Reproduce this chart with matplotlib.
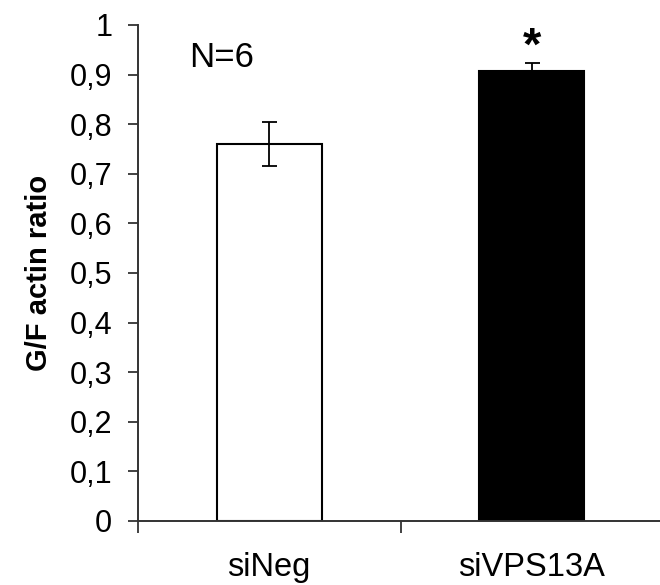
import matplotlib
matplotlib.use("Agg")
import matplotlib.pyplot as plt
import numpy as np

categories = ["siNeg", "siVPS13A"]
values = [0.76, 0.908]
errors = [0.044, 0.016]
bar_colors = ["white", "black"]
ytick_values = [0, 0.1, 0.2, 0.3, 0.4, 0.5, 0.6, 0.7, 0.8, 0.9, 1.0]
ytick_labels = ["0", "0,1", "0,2", "0,3", "0,4", "0,5", "0,6", "0,7", "0,8", "0,9", "1"]
annotation_n = "N=6"
significance = "*"

plt.rcParams['font.family'] = ['Liberation Sans', 'DejaVu Sans']

fig = plt.figure(figsize=(6.6, 5.85), dpi=100)
ax = fig.add_axes([138/660, 1 - 521/585, 525/660, (521 - 25)/585])

x = np.arange(len(categories))
ax.bar(x, values, width=0.4, color=bar_colors, edgecolor="black", linewidth=1.5,
       yerr=errors, capsize=5.4, error_kw=dict(ecolor="black", elinewidth=1.3, capthick=1.3),
       zorder=2)

ax.set_xlim(-0.5, 1.5)
ax.set_ylim(0, 1)
for s in ["top", "right"]:
    ax.spines[s].set_visible(False)
for s in ["left", "bottom"]:
    ax.spines[s].set_color("#333333")
    ax.spines[s].set_linewidth(1.4)

ax.set_yticks(ytick_values)
ax.set_yticklabels(ytick_labels, fontsize=22)
ax.tick_params(axis="y", direction="out", length=7.5, width=1.3, color="#333333", pad=11)

ax.set_xticks([-0.5, 0.5, 1.5])
ax.set_xticklabels(["", "", ""])
ax.tick_params(axis="x", which="major", direction="out", length=8.5, width=1.3, color="#333333")
ax.set_xticks(x, minor=True)
ax.set_xticklabels(categories, minor=True, fontsize=23.5)
ax.tick_params(axis="x", which="minor", length=0, pad=22)

ax.set_ylabel("G/F actin ratio", fontsize=21, fontweight="bold", labelpad=12)

ax.text(-0.305, 0.915, annotation_n, fontsize=25, ha="left", va="baseline")
ax.text(1, 0.955, significance, fontsize=34, fontweight="bold", ha="center", va="center")

fig.savefig("out.png", dpi=100)
